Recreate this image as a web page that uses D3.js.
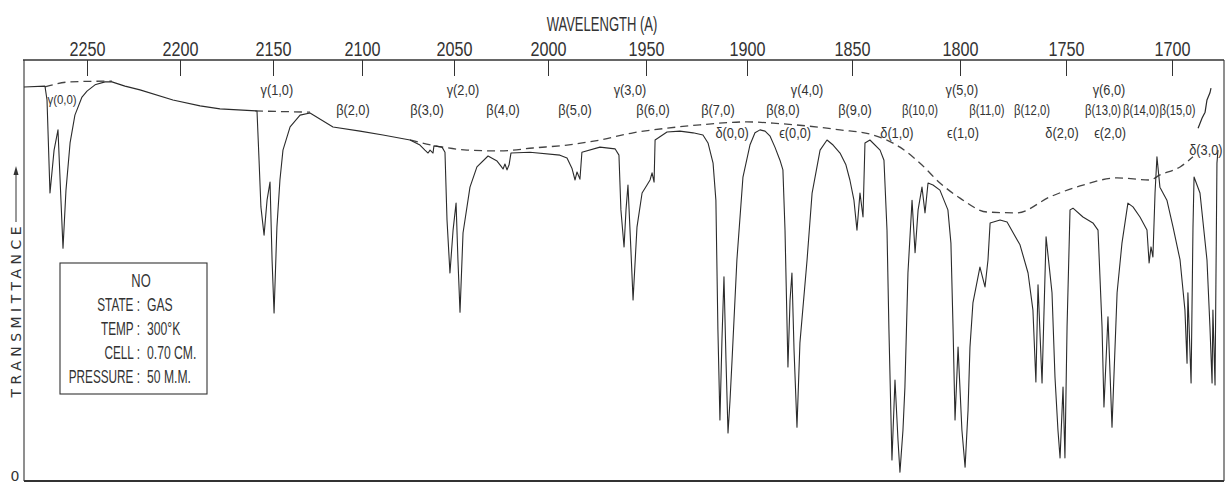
<!DOCTYPE html>
<html>
<head>
<meta charset="utf-8">
<script src="https://cdn.jsdelivr.net/npm/d3@7"></script>
<style>
  body { margin: 0; background: #fff; }
  svg { display: block; }
  text { font-family: 'Liberation Sans', Arial, sans-serif; fill: #333; }
</style>
</head>
<body>
<div class="chart"></div>
<script>
var svgWidth = 1226;
var svgHeight = 484;

var margin = {
  top: 60,
  right: 2,
  bottom: 3,
  left: 24
};

var width = svgWidth - margin.left - margin.right;
var height = svgHeight - margin.top - margin.bottom;

// wavelength ticks (A) printed on the chart paper
var tickWaves = [2250, 2200, 2150, 2100, 2050, 2000, 1950, 1900, 1850, 1800, 1750, 1700];
// the paper scale is not quite linear, so the ticks are used as scale stops
var tickStops = [63, 156, 249, 338, 430, 524, 622, 723, 828, 936, 1042, 1148];

// traced spectrum: [wavelength A, transmittance %]
var spectrum = [
  [2283.9, 93.6], [2272.6, 93.8], [2271.5, 90.5], [2269.9, 68.4], [2267.7, 78.6], [2265.6, 83.4],
  [2264.0, 66.7], [2262.9, 55.3], [2261.3, 69.1], [2259.1, 80.3], [2256.5, 86.9], [2252.7, 91.2],
  [2250.0, 92.6], [2245.7, 94.1], [2240.3, 94.8], [2236.6, 94.8], [2229.6, 93.8], [2221.5, 92.9],
  [2203.8, 90.5], [2189.2, 89.1], [2178.5, 88.4], [2158.6, 87.9], [2157.5, 76.2], [2156.5, 65.1],
  [2154.8, 58.4], [2153.2, 66.7], [2151.6, 71.0], [2150.5, 52.5], [2149.4, 39.9], [2147.8, 60.3],
  [2146.1, 71.5], [2144.4, 78.6], [2140.4, 84.1], [2134.8, 86.9], [2129.2, 87.4], [2116.3, 84.1],
  [2101.1, 83.1], [2088.6, 82.2], [2073.9, 81.0], [2068.5, 79.8], [2065.8, 78.6], [2064.1, 77.9],
  [2063.0, 78.6], [2061.4, 77.9], [2060.9, 79.6], [2056.5, 79.3], [2054.9, 78.1], [2053.8, 62.0],
  [2052.2, 49.4], [2050.5, 59.6], [2048.9, 66.0], [2047.9, 52.5], [2046.8, 40.1], [2045.2, 58.9],
  [2041.5, 69.8], [2037.8, 74.6], [2031.9, 77.2], [2027.1, 76.0], [2025.0, 74.8], [2023.9, 74.1],
  [2022.9, 75.3], [2021.8, 73.9], [2020.7, 75.1], [2019.7, 77.9], [2009.6, 78.1], [1993.9, 77.4],
  [1990.3, 76.7], [1987.8, 74.3], [1986.2, 71.5], [1985.2, 73.4], [1983.7, 71.7], [1982.7, 78.1],
  [1973.5, 79.3], [1965.8, 78.9], [1963.8, 77.4], [1962.8, 64.4], [1961.2, 55.6], [1960.2, 64.4],
  [1959.2, 70.3], [1957.7, 54.9], [1956.6, 43.0], [1954.6, 60.3], [1952.0, 68.4], [1949.5, 70.3],
  [1948.0, 71.5], [1947.0, 73.2], [1946.0, 71.0], [1945.5, 81.0], [1939.6, 82.9], [1933.2, 83.1],
  [1926.7, 82.7], [1921.8, 82.2], [1919.3, 80.3], [1916.8, 75.5], [1915.4, 66.7], [1914.4, 35.9],
  [1913.4, 14.5], [1912.4, 33.5], [1911.4, 48.5], [1910.4, 28.7], [1909.4, 11.4], [1908.4, 19.2],
  [1907.4, 28.7], [1905.0, 52.5], [1902.0, 72.2], [1898.6, 79.8], [1896.2, 82.7], [1893.8, 83.4],
  [1891.4, 83.1], [1889.0, 81.9], [1886.7, 79.3], [1884.3, 76.2], [1882.9, 73.9], [1881.9, 59.6],
  [1880.5, 27.1], [1879.5, 43.0], [1878.6, 49.4], [1877.6, 31.1], [1876.2, 12.8], [1874.8, 32.8],
  [1871.4, 52.5], [1869.0, 68.4], [1865.2, 78.6], [1861.9, 81.0], [1859.0, 79.8], [1855.7, 77.9],
  [1852.9, 75.1], [1851.0, 71.5], [1849.1, 66.7], [1847.7, 59.6], [1846.3, 68.4], [1844.9, 62.7],
  [1844.0, 80.3], [1841.7, 81.0], [1837.0, 78.6], [1835.2, 76.2], [1833.8, 59.6], [1832.9, 35.9],
  [1831.5, 5.0], [1830.1, 24.0], [1828.7, 9.7], [1827.8, 2.1], [1826.4, 12.1], [1825.5, 22.3],
  [1824.1, 49.4], [1822.2, 66.7], [1820.8, 54.2], [1819.4, 64.4], [1817.6, 69.8], [1816.2, 63.7],
  [1814.8, 70.8], [1812.5, 70.3], [1809.3, 69.1], [1805.6, 64.4], [1804.2, 56.5], [1803.2, 35.9],
  [1802.3, 14.5], [1800.9, 31.8], [1799.1, 12.1], [1797.6, 3.3], [1796.2, 16.9], [1795.3, 31.8],
  [1793.9, 42.3], [1790.6, 50.8], [1788.2, 46.1], [1786.8, 52.5], [1785.8, 61.3], [1781.1, 62.0],
  [1777.8, 61.5], [1771.7, 56.1], [1767.9, 49.4], [1765.6, 40.6], [1764.2, 23.5], [1763.2, 46.6],
  [1761.3, 23.3], [1759.4, 58.0], [1756.6, 44.7], [1755.2, 24.7], [1753.8, 12.1], [1752.8, 5.5],
  [1751.4, 22.3], [1750.5, 5.5], [1749.5, 36.6], [1748.1, 64.4], [1746.7, 64.8], [1742.0, 62.7],
  [1737.3, 61.3], [1734.9, 59.6], [1733.0, 36.6], [1732.1, 17.6], [1730.2, 39.0], [1728.3, 12.8],
  [1725.9, 44.7], [1723.6, 56.5], [1720.8, 66.0], [1718.4, 65.1], [1715.1, 62.7], [1711.8, 59.6],
  [1710.8, 51.8], [1709.9, 55.6], [1709.0, 53.2], [1708.0, 68.4], [1707.1, 77.0], [1705.7, 69.8],
  [1702.4, 66.7], [1699.5, 60.3], [1696.2, 52.5], [1693.9, 40.6], [1692.9, 28.0], [1692.5, 44.7],
  [1691.0, 23.3], [1690.1, 60.3], [1689.6, 72.2], [1686.8, 68.4], [1683.5, 52.5], [1682.1, 36.6],
  [1681.1, 23.3], [1680.7, 40.6], [1679.7, 22.8], [1678.8, 75.5], [1678.3, 78.6]
];

// the bit of trace left above the baseline at the far right
var tailTrace = [[1687.7, 83.8], [1685.8, 86.2], [1684.4, 87.6], [1683.5, 90.5], [1682.1, 92.2], [1681.6, 93.3]];

// dashed background (100% line) drawn across the bands
var baseline = [
  [[2272.6, 93.6], [2259.1, 94.8], [2236.6, 95.0]],
  [[2159.7, 87.9], [2129.2, 87.6]],
  [[2073.9, 81.0], [2056.0, 79.3], [2043.1, 78.6], [2025.5, 78.4], [2008.0, 79.1], [1990.3, 79.8],
   [1973.5, 81.0], [1956.6, 82.7], [1939.6, 83.8], [1923.3, 84.6], [1900.0, 85.3], [1887.6, 85.0],
   [1855.7, 83.4], [1840.3, 82.2], [1827.8, 79.3], [1818.5, 75.5], [1809.3, 70.8], [1800.0, 67.2],
   [1787.3, 63.9], [1773.1, 63.7], [1757.5, 67.5], [1742.0, 70.3], [1725.9, 72.0], [1710.4, 71.5],
   [1705.7, 72.7], [1696.2, 74.6], [1690.1, 77.0]]
];

// band assignments and the wavelength they are written over
var bandNames = ["γ(0,0)", "γ(1,0)", "β(2,0)", "β(3,0)", "γ(2,0)", "β(4,0)", "β(5,0)", "γ(3,0)",
  "β(6,0)", "β(7,0)", "δ(0,0)", "β(8,0)", "ϵ(0,0)", "γ(4,0)", "β(9,0)", "δ(1,0)", "β(10,0)",
  "γ(5,0)", "ϵ(1,0)", "β(11,0)", "β(12,0)", "δ(2,0)", "β(13,0)", "γ(6,0)", "ϵ(2,0)", "β(14,0)",
  "β(15,0)", "δ(3,0)"];
var bandWaves = [2263.4, 2147.8, 2105.1, 2064.7, 2045.2, 2023.9, 1986.2, 1958.2,
  1946.5, 1914.4, 1907.4, 1882.9, 1877.1, 1871.4, 1848.6, 1829.2, 1818.5,
  1799.1, 1798.6, 1787.3, 1766.0, 1751.9, 1732.5, 1729.7, 1729.2, 1714.6,
  1697.4, 1684.0];

var infoKeys = ["STATE :", "TEMP :", "CELL :", "PRESSURE :"];
var infoValues = ["GAS", "300°K", "0.70 CM.", "50 M.M."];

// narrow the lettering like the hand-lettered original (scale about the anchor point)
function narrow(sel, k) {
  sel.each(function (d) {
    var t = d3.select(this);
    var px = +t.attr("x") || 0;
    var py = +t.attr("y") || 0;
    var kk = typeof k === "function" ? k(d) : k;
    t.attr("x", 0).attr("y", 0)
      .attr("transform", `translate(${px}, ${py}) scale(${kk}, 1)`);
  });
}

var svg = d3
  .select(".chart")
  .append("svg")
  .attr("width", svgWidth)
  .attr("height", svgHeight);

var chartGroup = svg.append("g")
  .attr("transform", `translate(${margin.left}, ${margin.top})`);

var xScale = d3.scaleLinear().domain(tickWaves).range(tickStops);
var yScale = d3.scaleLinear().domain([0, 100]).range([height, 0]);

var ink = "#333";

// frame
chartGroup.append("line").attr("x1", -1).attr("x2", width).attr("y1", 0).attr("y2", 0)
  .attr("stroke", ink).attr("stroke-width", 1.6);
chartGroup.append("line").attr("x1", 0).attr("x2", 0).attr("y1", 0).attr("y2", height)
  .attr("stroke", ink).attr("stroke-width", 1.1);
chartGroup.append("line").attr("x1", width).attr("x2", width).attr("y1", 0).attr("y2", height)
  .attr("stroke", ink).attr("stroke-width", 1.1);
chartGroup.append("line").attr("x1", 0).attr("x2", width).attr("y1", height).attr("y2", height)
  .attr("stroke", ink).attr("stroke-width", 2.2);

// top axis, ticks hanging into the chart
var topAxis = d3.axisTop(xScale)
  .tickValues(tickWaves)
  .tickSize(-16)
  .tickPadding(4)
  .tickFormat(d3.format("d"));

var xAxis = chartGroup.append("g").call(topAxis);
xAxis.select(".domain").remove();
xAxis.selectAll("line").attr("stroke", ink).attr("stroke-width", 1);
xAxis.selectAll("text")
  .attr("font-size", 21)
  .attr("fill", ink)
  .call(narrow, 0.77);

svg.append("text")
  .attr("x", 602)
  .attr("y", 31)
  .attr("text-anchor", "middle")
  .attr("font-size", 21)
  .text("WAVELENGTH (A)")
  .call(narrow, 0.62);

// y axis label with arrow
svg.append("text")
  .attr("transform", "translate(21, 312) rotate(-90)")
  .attr("text-anchor", "middle")
  .attr("font-size", 14)
  .attr("textLength", 171)
  .attr("lengthAdjust", "spacing")
  .style("font-family", "'DejaVu Sans', sans-serif")
  .text("TRANSMITTANCE");
svg.append("line").attr("x1", 16).attr("x2", 16).attr("y1", 222).attr("y2", 172)
  .attr("stroke", ink).attr("stroke-width", 1);
svg.append("path").attr("d", "M16,166 L13.5,175 L18.5,175 Z").attr("fill", ink);

svg.append("text")
  .attr("x", 15)
  .attr("y", 481)
  .attr("text-anchor", "middle")
  .attr("font-size", 14)
  .style("font-family", "'DejaVu Sans', sans-serif")
  .text("0");

// background line
var dashLine = d3.line()
  .x(d => xScale(d[0]))
  .y(d => yScale(d[1]))
  .curve(d3.curveMonotoneX);

chartGroup.selectAll(".base")
  .data(baseline)
  .enter()
  .append("path")
  .attr("class", "base")
  .attr("d", dashLine)
  .attr("fill", "none")
  .attr("stroke", "#444")
  .attr("stroke-width", 1.3)
  .attr("stroke-dasharray", "8,5");

// spectrum trace
var traceLine = d3.line()
  .x(d => xScale(d[0]))
  .y(d => yScale(d[1]));

chartGroup.append("path")
  .datum(spectrum)
  .attr("d", traceLine)
  .attr("fill", "none")
  .attr("stroke", "#2b2b2b")
  .attr("stroke-width", 1.1)
  .attr("stroke-linejoin", "round");

chartGroup.append("path")
  .datum(tailTrace)
  .attr("d", traceLine)
  .attr("fill", "none")
  .attr("stroke", "#2b2b2b")
  .attr("stroke-width", 1.2);

// band labels: gamma on the upper row, beta below, delta/epsilon lowest
function labelRow(name) {
  if (name == "γ(0,0)") return 44;
  if (name == "δ(3,0)") return 95;
  var c = name.charAt(0);
  if (c == "γ") return 35;
  if (c == "β") return 55;
  return 78;
}

chartGroup.selectAll(".band")
  .data(bandNames)
  .enter()
  .append("text")
  .attr("class", "band")
  .attr("x", (d, i) => xScale(bandWaves[i]))
  .attr("y", d => labelRow(d))
  .attr("text-anchor", "middle")
  .attr("font-size", d => d == "γ(0,0)" ? 13 : 14.5)
  .text(d => d)
  .call(narrow, d => d.length > 6 ? 0.78 : 0.88);

// sample box
var box = svg.append("g").attr("transform", "translate(60, 263)");
box.append("rect")
  .attr("width", 147)
  .attr("height", 131)
  .attr("fill", "#fff")
  .attr("stroke", ink)
  .attr("stroke-width", 1.1);

box.append("text")
  .attr("x", 81)
  .attr("y", 24)
  .attr("text-anchor", "middle")
  .attr("font-size", 19)
  .text("NO")
  .call(narrow, 0.68);

infoKeys.forEach(function (k, i) {
  box.append("text")
    .attr("x", 80)
    .attr("y", 48 + i * 24)
    .attr("text-anchor", "end")
    .attr("font-size", 19)
    .text(k)
    .call(narrow, 0.62);
  box.append("text")
    .attr("x", 87)
    .attr("y", 48 + i * 24)
    .attr("font-size", 19)
    .text(infoValues[i])
    .call(narrow, 0.64);
});
</script>
</body>
</html>
